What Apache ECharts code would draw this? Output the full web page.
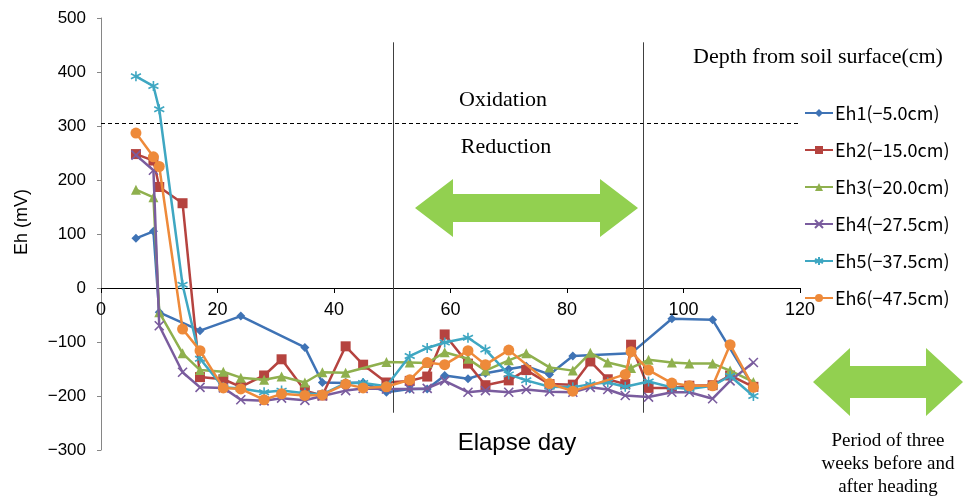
<!DOCTYPE html>
<html>
<head>
<meta charset="utf-8">
<script src="https://cdn.jsdelivr.net/npm/echarts@6/dist/echarts.min.js"></script>
<style>html,body{margin:0;padding:0;background:#fff}#c{width:963px;height:498px}</style>
</head>
<body>
<div id="c"></div>
<script>
const days = [6,9,10,14,17,21,24,28,31,35,38,42,45,49,53,56,59,63,66,70,73,77,81,84,87,90,91,94,98,101,105,108,112];
const seriesNames = ['Eh1(−5.0cm)','Eh2(−15.0cm)','Eh3(−20.0cm)','Eh4(−27.5cm)','Eh5(−37.5cm)','Eh6(−47.5cm)'];
const eh1 = [92,105,-45,null,-79,null,-52,null,null,-110,-175,-176,-175,-193,-187,-187,-162,-168,-158,-150,-145,-160,-126,null,null,null,-121,null,-57,null,-59,null,-183];
const eh2 = [248,236,187,157,-165,-169,-183,-162,-132,-190,-199,-108,-142,-175,-172,-164,-86,-140,-180,-171,-152,-178,-179,-136,-169,-178,-105,-185,-185,-181,-180,-162,-183];
const eh3 = [182,168,-45,-121,-152,-155,-166,-170,-164,-175,-156,-157,null,-137,-138,-139,-119,-131,-153,-134,-121,-147,-153,-120,-138,null,-148,-133,-138,-140,-140,-153,-174];
const eh4 = [246,218,-70,-156,-184,-185,-207,-209,-204,-208,-200,-190,-186,-187,-187,-186,-172,-193,-190,-193,-188,-192,-193,-184,-188,-199,null,-202,-193,-193,-205,-172,-138];
const eh5 = [392,374,331,6,-131,-184,-186,-193,-190,-195,-197,-176,-176,-182,-126,-111,-101,-92,-114,-160,-171,-183,-184,-178,-175,-183,null,-173,-184,-187,-181,-163,-200];
const eh6 = [287,243,225,-76,-116,-185,-187,-207,-196,-199,-198,-178,-185,-183,-170,-138,-142,-116,-142,-115,null,-177,-191,null,null,-160,-118,-152,-176,-181,-181,-105,-184];
const yTicks = {min:-300, max:500, step:100};
const xTicks = {min:0, max:120, step:20};
const boundaryLevel = 305;          // dashed oxidation/reduction line (mV)
const periodDays = [50.2, 93.1];    // vertical lines (days)
const periodSpan = [455, -231];     // their vertical extent (mV)

const colors = ['#3F73B5','#B5433F','#8FB04E','#7A5C9E','#3FA7C2','#EE8A3A'];
const symbols = ['diamond','rect','triangle',
  'path://M0,0L10,10M10,0L0,10',
  'path://M5,0L5,10M0.8,2.5L9.2,7.5M9.2,2.5L0.8,7.5',
  'circle'];
const sizes = [9,10,10,9,10,11];
const allData = [eh1,eh2,eh3,eh4,eh5,eh6];

const gridTop = 18, gridHeight = 432;
const zeroOffset = -gridHeight * (0 - yTicks.min) / (yTicks.max - yTicks.min);

const chart = echarts.init(document.getElementById('c'), null, {renderer:'canvas'});
const minus = v => String(v).replace('-', '−');

const series = allData.map((arr, k) => {
  const s = {
    name: seriesNames[k],
    type: 'line',
    data: days.map((d,i)=>[d, arr[i]]).filter(p => p[1] !== null),
    symbol: symbols[k],
    symbolSize: sizes[k],
    showAllSymbol: true,
    connectNulls: true,
    lineStyle: {color: colors[k], width: 2.5},
    itemStyle: {color: colors[k], borderColor: colors[k], borderWidth: (k===3||k===4)?1.6:0},
    emphasis: {disabled: true},
    animation: false,
    z: 3 + k
  };
  if (k === 0) {
    s.markLine = {
      silent: true, symbol: 'none', animation: false,
      label: {show:false},
      lineStyle: {type: [4,3], color: '#000', width: 1},
      data: [[{coord:[xTicks.min, boundaryLevel]}, {coord:[xTicks.max, boundaryLevel]}]]
    };
  }
  if (k === 1) {
    s.markLine = {
      silent: true, symbol: 'none', animation: false,
      label: {show:false},
      lineStyle: {type: 'solid', color: '#404040', width: 1},
      data: periodDays.map(d => [{coord:[d, periodSpan[0]]}, {coord:[d, periodSpan[1]]}])
    };
  }
  return s;
});

function arrow(x1, x2, cy, headLen, headH, bodyH) {
  return [[x1,cy],[x1+headLen,cy-headH/2],[x1+headLen,cy-bodyH/2],[x2-headLen,cy-bodyH/2],
          [x2-headLen,cy-headH/2],[x2,cy],[x2-headLen,cy+headH/2],[x2-headLen,cy+bodyH/2],
          [x1+headLen,cy+bodyH/2],[x1+headLen,cy+headH/2]];
}
const serif = '"Liberation Serif", "Times New Roman", serif';
const sans = '"Liberation Sans", Arial, sans-serif';
const txt = (x, y, text, font, rot) => ({type:'text', x, y, rotation: rot || 0, silent: true,
  style:{text, font, fill:'#000', textAlign:'center', textVerticalAlign:'middle'}});

chart.setOption({
  backgroundColor: '#fff',
  animation: false,
  color: colors,
  grid: {left: 101, right: 163, top: gridTop, height: gridHeight, containLabel: false},
  xAxis: {
    type: 'value', min: xTicks.min, max: xTicks.max, interval: xTicks.step,
    position: 'bottom', offset: zeroOffset,
    axisLine: {onZero: false, lineStyle: {color: '#000', width: 1}},
    axisTick: {show: true, length: 5, lineStyle: {color: '#000'}},
    axisLabel: {color: '#000', fontSize: 18, fontFamily: sans, margin: 13, showMaxLabel: true},
    splitLine: {show: false}
  },
  yAxis: {
    type: 'value', min: yTicks.min, max: yTicks.max, interval: yTicks.step,
    axisLine: {show: true, onZero: false, lineStyle: {color: '#868686', width: 1}},
    axisTick: {show: true, length: 4, lineStyle: {color: '#868686'}},
    axisLabel: {color: '#000', fontSize: 17, fontFamily: sans, margin: 15, formatter: minus},
    splitLine: {show: false}
  },
  legend: {
    orient: 'vertical', left: 799, top: 99,
    itemWidth: 28, itemHeight: 10, itemGap: 19,
    textStyle: {fontSize: 18, color: '#000', fontFamily: '"Noto Sans CJK JP", sans-serif', padding: [0,0,0,-3]},
    data: seriesNames
  },
  graphic: [
    txt(22, 222, 'Eh (mV)', '18px ' + sans, Math.PI/2),
    txt(517, 443, 'Elapse day', '24px ' + sans),
    txt(503, 100, 'Oxidation', '22px ' + serif),
    txt(506, 147, 'Reduction', '22px ' + serif),
    txt(818, 57, 'Depth from soil surface(cm)', '22px ' + serif),
    txt(888, 441, 'Period of three', '19px ' + serif),
    txt(888, 464, 'weeks before and', '19px ' + serif),
    txt(888, 487, 'after heading', '19px ' + serif),
    {type:'polygon', silent:true, shape:{points: arrow(415, 638, 208, 38, 58, 28)}, style:{fill:'#92D050'}},
    {type:'polygon', silent:true, shape:{points: arrow(813, 963, 382, 37, 68, 32)}, style:{fill:'#92D050'}}
  ],
  series: series
});
</script>
</body>
</html>
